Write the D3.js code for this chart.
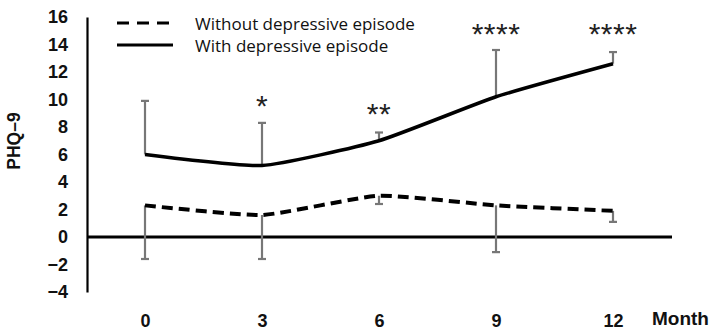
<!DOCTYPE html>
<html>
<head>
<meta charset="utf-8">
<script src="https://cdn.jsdelivr.net/npm/d3@7"></script>
<style>
  body { margin: 0; background: #fff; }
  svg { display: block; }
</style>
</head>
<body>
<div id="chart"></div>
<script>
// values
const months = [0, 3, 6, 9, 12]
const withMean = [6.0, 5.2, 7.0, 10.2, 12.6]
const withUpper = [9.9, 8.3, 7.6, 13.6, 13.45]
const withoutMean = [2.3, 1.6, 3.0, 2.3, 1.9]
const withoutLower = [-1.6, -1.6, 2.4, -1.1, 1.1]
const stars = ['', '*', '**', '****', '****']
const starY = [0, 10.0, 9.4, 15.2, 15.2]
const yTicks = [-4, -2, 0, 2, 4, 6, 8, 10, 12, 14, 16]
const legendLabels = ['Without depressive episode', 'With depressive episode']

const width = 714, height = 335

const svg = d3.select('#chart').append('svg')
    .attr('width', width)
    .attr('height', height)

const x = d3.scaleLinear().domain([0, 12]).range([145, 613])
const y = d3.scaleLinear().domain([-4, 16]).range([292, 17])

// y axis
const yAxis = d3.axisLeft(y)
    .tickValues(yTicks)
    .tickSize(0)
    .tickSizeOuter(0)
    .tickPadding(19)

const yAxisG = svg.append('g')
    .attr('transform', `translate(87, 0)`)
    .call(yAxis)
yAxisG.select('.domain').attr('stroke', '#000').attr('stroke-width', 2.2)
yAxisG.selectAll('text')
    .attr('font-family', 'Liberation Sans, Arial, sans-serif')
    .attr('font-weight', 'bold')
    .attr('font-size', 18)
    .attr('fill', '#111')

// x axis labels
const xAxis = d3.axisBottom(x)
    .tickValues(months)
    .tickSize(0)
    .tickFormat(d3.format('d'))

const xAxisG = svg.append('g')
    .attr('transform', `translate(0, 311)`)
    .call(xAxis)
xAxisG.select('.domain').remove()
xAxisG.selectAll('text')
    .attr('font-family', 'Liberation Sans, Arial, sans-serif')
    .attr('font-weight', 'bold')
    .attr('font-size', 18)
    .attr('fill', '#111')

svg.append('text')
    .attr('x', 652)
    .attr('y', 325)
    .attr('font-family', 'Liberation Sans, Arial, sans-serif')
    .attr('font-weight', 'bold')
    .attr('font-size', 19)
    .attr('fill', '#111')
    .text('Month')

svg.append('text')
    .attr('transform', `translate(20, 141) rotate(-90)`)
    .attr('text-anchor', 'middle')
    .attr('font-family', 'Liberation Sans, Arial, sans-serif')
    .attr('font-weight', 'bold')
    .attr('font-size', 17.5)
    .attr('fill', '#111')
    .text('PHQ\u20139')

// zero line
svg.append('line')
    .attr('x1', 87)
    .attr('x2', 672)
    .attr('y1', y(0))
    .attr('y2', y(0))
    .attr('stroke', '#000')
    .attr('stroke-width', 3)

// error bars
const bars = svg.append('g')
    .attr('stroke', '#777')
    .attr('stroke-width', 2.2)

function errorBars(mean, end) {
    months.forEach((m, i) => {
        bars.append('line')
            .attr('x1', x(m)).attr('x2', x(m))
            .attr('y1', y(mean[i])).attr('y2', y(end[i]))
        bars.append('line')
            .attr('x1', x(m) - 4).attr('x2', x(m) + 4)
            .attr('y1', y(end[i])).attr('y2', y(end[i]))
    })
}
errorBars(withMean, withUpper)
errorBars(withoutMean, withoutLower)

const line = d3.line()
    .x((d, i) => x(months[i]))
    .y(d => y(d))
    .curve(d3.curveCardinal.tension(0.5))

svg.append('path')
    .datum(withoutMean)
    .attr('d', line)
    .attr('fill', 'none')
    .attr('stroke', '#000')
    .attr('stroke-width', 4)
    .attr('stroke-dasharray', '11,6')

svg.append('path')
    .datum(withMean)
    .attr('d', line)
    .attr('fill', 'none')
    .attr('stroke', '#000')
    .attr('stroke-width', 3.5)

// significance stars (glyph centre sits ~0.55em above the baseline)
svg.selectAll('.star')
    .data(stars)
    .join('text')
    .attr('class', 'star')
    .attr('x', (d, i) => x(months[i]))
    .attr('y', (d, i) => y(starY[i]) + 16)
    .attr('text-anchor', 'middle')
    .attr('font-family', 'Liberation Sans, Arial, sans-serif')
    .attr('font-size', 30)
    .attr('letter-spacing', 0.5)
    .attr('fill', '#222')
    .text(d => d)

// legend
const legend = svg.append('g')
legendLabels.forEach((label, i) => {
    const ly = 23 + i * 22
    legend.append('line')
        .attr('x1', 117).attr('x2', 173)
        .attr('y1', ly).attr('y2', ly)
        .attr('stroke', '#000')
        .attr('stroke-width', 3)
        .attr('stroke-dasharray', i === 0 ? '12,8' : null)
    legend.append('text')
        .attr('x', 195)
        .attr('y', ly)
        .attr('dominant-baseline', 'central')
        .attr('font-family', 'Open Sans, sans-serif')
        .attr('font-size', 17)
        .attr('fill', '#111')
        .text(label)
})
</script>
</body>
</html>
